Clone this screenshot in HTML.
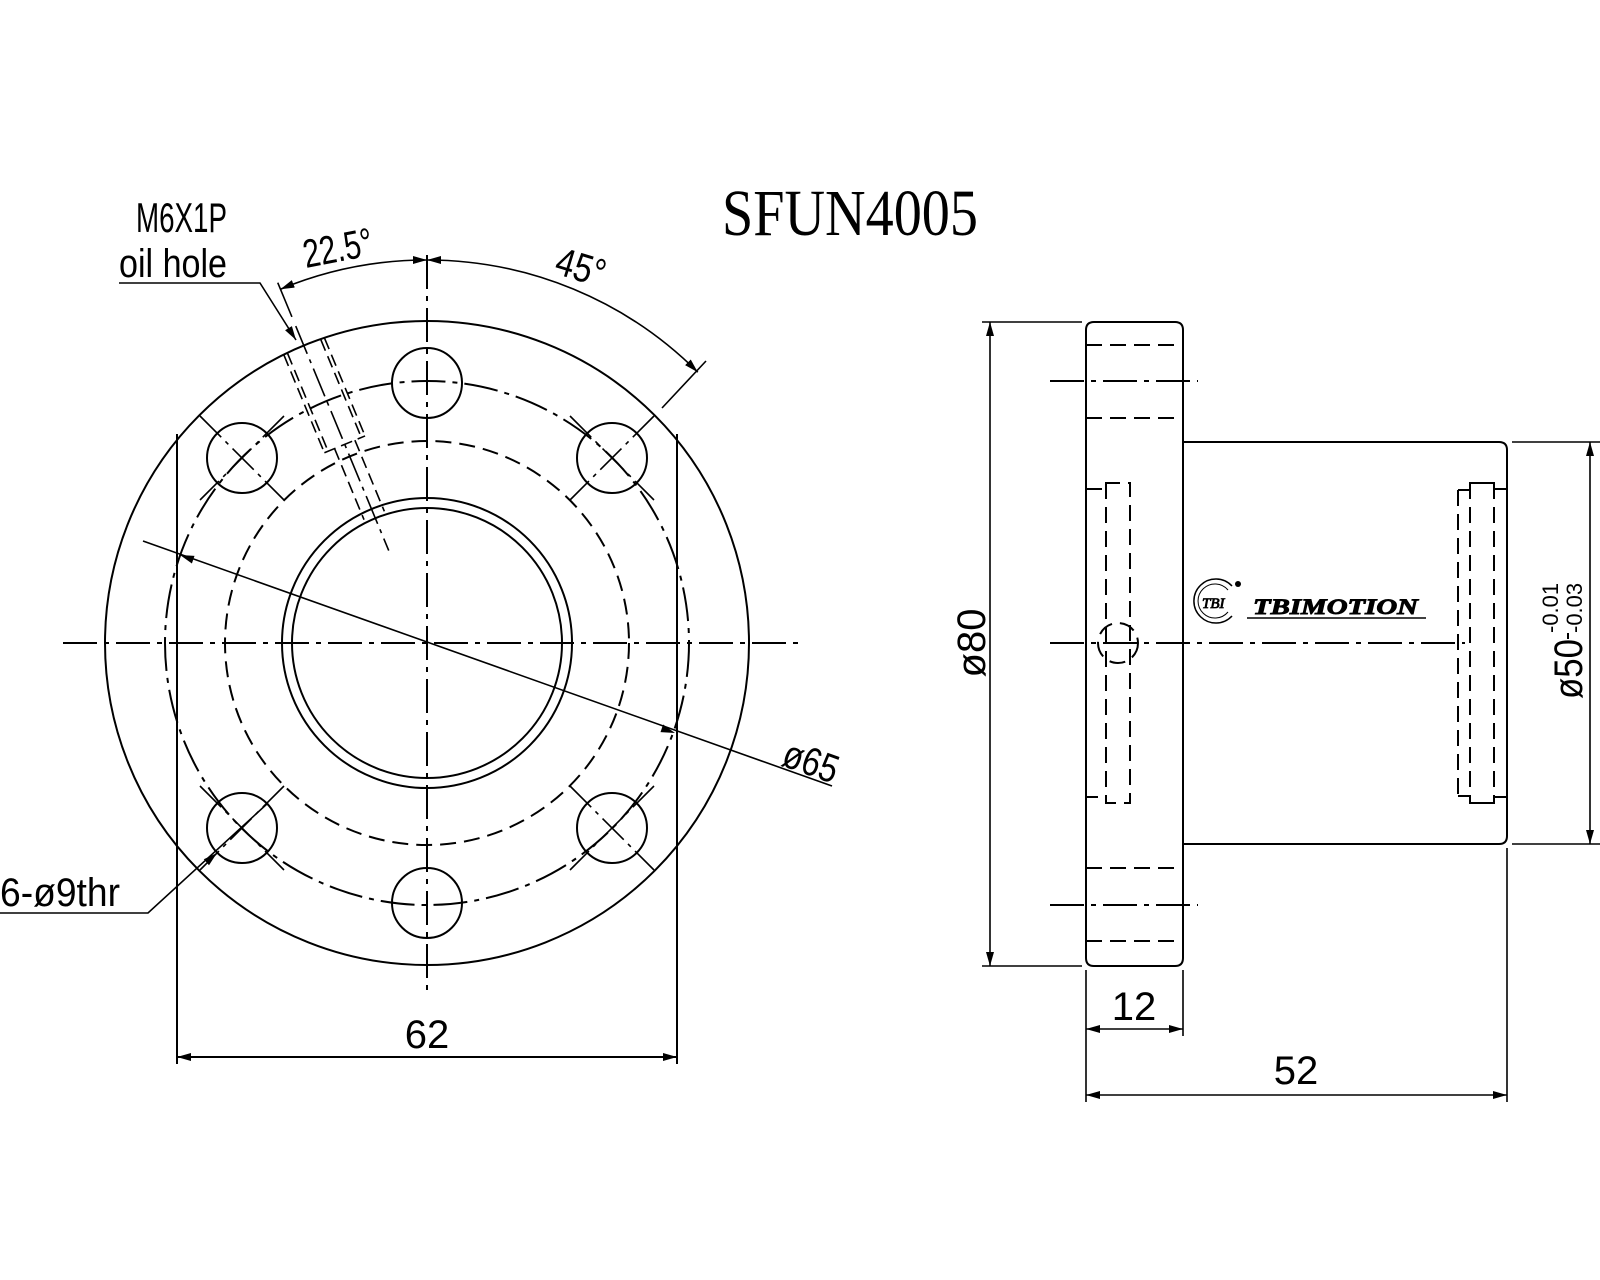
<!DOCTYPE html>
<html><head><meta charset="utf-8"><style>
html,body{margin:0;padding:0;background:#fff}
svg{display:block}
text{font-family:"Liberation Sans",sans-serif;fill:#000}
</style></head><body>
<svg width="1600" height="1280" viewBox="0 0 1600 1280" xmlns="http://www.w3.org/2000/svg">
<defs>
<marker id="ar" viewBox="0 0 14 8" refX="14" refY="4" markerWidth="14" markerHeight="8" markerUnits="userSpaceOnUse" orient="auto-start-reverse"><path d="M0,0 L14,4 L0,8 z" fill="#000"/></marker>
</defs>
<g fill="none" stroke="#000" stroke-width="2">
<!-- LEFT VIEW -->
<circle cx="427" cy="643" r="322"/>
<circle cx="427" cy="643" r="145"/>
<circle cx="427" cy="643" r="135"/>
<circle cx="427" cy="643" r="202" stroke-dasharray="16 8"/>
<circle cx="427" cy="643" r="262" stroke-dasharray="34 7 5 7"/>
<circle cx="427" cy="383" r="35"/>
<circle cx="427" cy="903" r="35"/>
<circle cx="242" cy="458" r="35"/>
<circle cx="612" cy="458" r="35"/>
<circle cx="242" cy="828" r="35"/>
<circle cx="612" cy="828" r="35"/>
<!-- hole crosshairs (45deg) -->
<g stroke-dasharray="30 6 4 6" stroke-width="1.6">
<line x1="200" y1="416" x2="284" y2="500"/><line x1="284" y1="416" x2="200" y2="500"/>
<line x1="570" y1="416" x2="654" y2="500"/><line x1="654" y1="416" x2="570" y2="500"/>
<line x1="200" y1="786" x2="284" y2="870"/><line x1="284" y1="786" x2="200" y2="870"/>
<line x1="570" y1="786" x2="654" y2="870"/><line x1="654" y1="786" x2="570" y2="870"/>
</g>
<!-- centerlines -->
<line x1="427" y1="255" x2="427" y2="990" stroke-dasharray="34 7 5 7"/>
<line x1="63" y1="643" x2="801" y2="643" stroke-dasharray="34 7 5 7"/>
<!-- flats / 62 -->
<line x1="177" y1="434" x2="177" y2="1064"/>
<line x1="677" y1="434" x2="677" y2="1064"/>
<line x1="177" y1="1057" x2="677" y2="1057" marker-start="url(#ar)" marker-end="url(#ar)"/>
<!-- oil hole (rotated group) -->
<g transform="rotate(-22.5 427 643)">
<g stroke-dasharray="12 6" stroke-width="1.6">
<line x1="405" y1="322" x2="405" y2="428"/>
<line x1="409" y1="322" x2="409" y2="428"/>
<line x1="449" y1="322" x2="449" y2="428"/>
<line x1="445" y1="322" x2="445" y2="428"/>
<line x1="405" y1="428" x2="449" y2="428"/>
<line x1="416" y1="428" x2="416" y2="505"/>
<line x1="438" y1="428" x2="438" y2="505"/>
</g>
<line x1="427" y1="300" x2="427" y2="543" stroke-dasharray="30 6 4 6" stroke-width="1.6"/>
<line x1="427" y1="253" x2="427" y2="290" stroke-width="1.6"/>
</g>
<!-- 45 ext line -->
<line x1="662" y1="408" x2="706" y2="361" stroke-width="1.6"/>
<!-- angle arcs -->
<path d="M280.4,289.2 A383,383 0 0 1 427,260" stroke-width="1.6" marker-start="url(#ar)" marker-end="url(#ar)"/>
<path d="M427,260 A383,383 0 0 1 697.8,372.2" stroke-width="1.6" marker-start="url(#ar)" marker-end="url(#ar)"/>
<!-- oil hole leader -->
<polyline points="119,283 260,283 296,340" stroke-width="1.6"/>
<!-- phi65 -->
<line x1="143" y1="541" x2="832" y2="786" stroke-width="1.6"/>
<!-- 6-phi9 leader -->
<polyline points="0,913 148,913 268,803" stroke-width="1.6"/>

<!-- RIGHT VIEW -->
<path d="M1086,330 Q1086,322 1094,322 L1175,322 Q1183,322 1183,330 L1183,958 Q1183,966 1175,966 L1094,966 Q1086,966 1086,958 Z"/>
<path d="M1183,442 L1499,442 Q1507,442 1507,450 L1507,836 Q1507,844 1499,844 L1183,844"/>
<g stroke-dasharray="16 8">
<line x1="1086" y1="345" x2="1183" y2="345"/>
<line x1="1086" y1="418" x2="1183" y2="418"/>
<line x1="1086" y1="868" x2="1183" y2="868"/>
<line x1="1086" y1="941" x2="1183" y2="941"/>
<polyline points="1086,489 1106,489 1106,483 1130,483 1130,803 1106,803 1106,797 1086,797"/>
<line x1="1106" y1="483" x2="1106" y2="803"/>
<line x1="1458" y1="490" x2="1458" y2="796"/>
<line x1="1470" y1="483" x2="1470" y2="803"/>
<line x1="1494" y1="483" x2="1494" y2="803"/>
<circle cx="1118" cy="643" r="20"/>
</g>
<polyline points="1458,490 1470,490 1470,483 1494,483 1494,489 1507,489"/>
<polyline points="1458,796 1470,796 1470,803 1494,803 1494,797 1507,797"/>
<g stroke-dasharray="34 7 5 7">
<line x1="1050" y1="381" x2="1198" y2="381"/>
<line x1="1050" y1="905" x2="1198" y2="905"/>
<line x1="1050" y1="643" x2="1465" y2="643"/>
</g>
<!-- dims right -->
<g stroke-width="1.6">
<line x1="982" y1="322" x2="1082" y2="322"/>
<line x1="982" y1="966" x2="1082" y2="966"/>
<line x1="990" y1="322" x2="990" y2="966" marker-start="url(#ar)" marker-end="url(#ar)"/>
<line x1="1512" y1="442" x2="1600" y2="442"/>
<line x1="1512" y1="844" x2="1600" y2="844"/>
<line x1="1590" y1="442" x2="1590" y2="844" marker-start="url(#ar)" marker-end="url(#ar)"/>
<line x1="1086" y1="970" x2="1086" y2="1102"/>
<line x1="1183" y1="970" x2="1183" y2="1036"/>
<line x1="1507" y1="848" x2="1507" y2="1102"/>
<line x1="1086" y1="1029" x2="1183" y2="1029" marker-start="url(#ar)" marker-end="url(#ar)"/>
<line x1="1086" y1="1095" x2="1507" y2="1095" marker-start="url(#ar)" marker-end="url(#ar)"/>
</g>
<!-- logo -->
<path d="M1232,586 A22,22 0 1 0 1232,616" stroke-width="1.5"/>
<path d="M1228,590 A17,17 0 1 0 1228,612" stroke-width="1"/>
<line x1="1247" y1="618" x2="1426" y2="618" stroke-width="1.5"/>
</g>
<!-- arrowheads filled -->
<g fill="#000">
<polygon points="675,733 660.5,732.1 663.1,724.5"/>
<polygon points="180,555 191.9,563.5 194.5,555.9"/>
<polygon points="217,853 209,865.2 203.8,859.2"/>
<polygon points="296,340 291.9,326.1 285.1,330.3"/>
<circle cx="1238" cy="584" r="3"/>
</g>
<!-- TEXT -->
<text x="722" y="235" font-family="Liberation Serif, serif" font-size="66" textLength="256" lengthAdjust="spacingAndGlyphs" style="font-family:'Liberation Serif',serif">SFUN4005</text>
<text x="136" y="232" font-size="42" textLength="91" lengthAdjust="spacingAndGlyphs">M6X1P</text>
<text x="119" y="277" font-size="40" textLength="108" lengthAdjust="spacingAndGlyphs">oil  hole</text>
<text x="0" y="0" font-size="40" textLength="70" lengthAdjust="spacingAndGlyphs" transform="translate(306,268) rotate(-11)">22.5°</text>
<text x="0" y="0" font-size="40" textLength="50" lengthAdjust="spacingAndGlyphs" transform="translate(553,273) rotate(17)">45°</text>
<text x="0" y="0" font-size="40" textLength="56" lengthAdjust="spacingAndGlyphs" transform="translate(780,765) rotate(19.6)">ø65</text>
<text x="0" y="906" font-size="40" textLength="120" lengthAdjust="spacingAndGlyphs">6-ø9thr</text>
<text x="427" y="1048" font-size="40" text-anchor="middle">62</text>
<text x="1134" y="1020" font-size="40" text-anchor="middle">12</text>
<text x="1296" y="1084" font-size="40" text-anchor="middle">52</text>
<text x="0" y="0" font-size="40" text-anchor="middle" transform="translate(985,643) rotate(-90)">ø80</text>
<g transform="translate(1582,643) rotate(-90)">
<text x="-56" y="0" font-size="40" textLength="60" lengthAdjust="spacingAndGlyphs">ø50</text>
<line x1="4" y1="-14" x2="10" y2="-14" stroke="#000" stroke-width="2"/>
<text x="10" y="-24" font-size="22">-0.01</text>
<text x="10" y="0" font-size="22">-0.03</text>
</g>
<text x="1202" y="608" font-family="Liberation Serif, serif" font-size="15" font-style="italic" fill="#fff" stroke="#000" stroke-width="0.8" style="font-family:'Liberation Serif',serif">TBI</text>
<text x="1253" y="614" font-size="22" font-style="italic" font-weight="bold" fill="#fff" stroke="#000" stroke-width="0.9" textLength="165" lengthAdjust="spacingAndGlyphs" style="font-family:'Liberation Serif',serif">TBIMOTION</text>
</svg>
</body></html>
